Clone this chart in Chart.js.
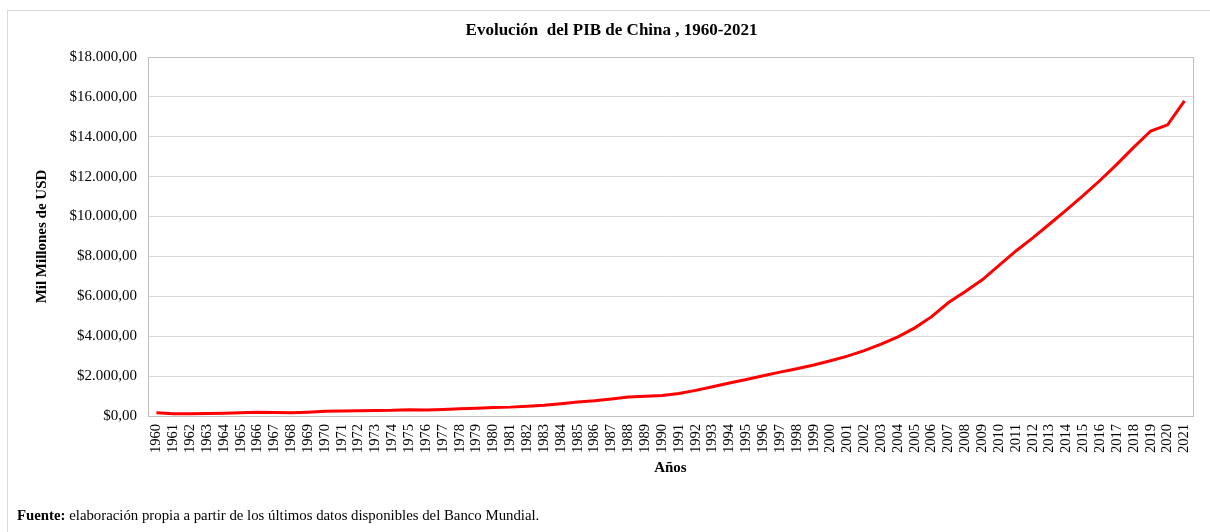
<!DOCTYPE html>
<html>
<head>
<meta charset="utf-8">
<script src="https://cdn.jsdelivr.net/npm/chart.js@4.4.0/dist/chart.umd.min.js"></script>
<style>
  html, body { margin: 0; padding: 0; background: #fff; overflow: hidden; }
  #wrap { position: relative; width: 1210px; height: 532px; }
  #frame { position: absolute; left: 7px; top: 10px; width: 1240px; height: 600px; border: 1px solid #d9d9d9; box-sizing: border-box; }
  #c { position: absolute; left: 0; top: 0; }
  #foot { position: absolute; left: 17px; top: 507px; font-family: "Liberation Serif", "Times New Roman", serif; font-size: 14.8px; color: #000; white-space: nowrap; }
</style>
</head>
<body>
<div id="wrap">
  <div id="frame"></div>
  <canvas id="c" width="1210" height="532"></canvas>
  <div id="foot"><b>Fuente:</b> elaboración propia a partir de los últimos datos disponibles del Banco Mundial.</div>
</div>
<script>
// Years (categories)
const years = ["1960","1961","1962","1963","1964","1965","1966","1967","1968","1969",
  "1970","1971","1972","1973","1974","1975","1976","1977","1978","1979",
  "1980","1981","1982","1983","1984","1985","1986","1987","1988","1989",
  "1990","1991","1992","1993","1994","1995","1996","1997","1998","1999",
  "2000","2001","2002","2003","2004","2005","2006","2007","2008","2009",
  "2010","2011","2012","2013","2014","2015","2016","2017","2018","2019",
  "2020","2021"];

// GDP, billions of USD (Mil Millones de USD)
const pib = [158, 115, 109, 120, 142, 166, 184, 173, 166, 194,
  232, 248, 258, 278, 284, 309, 304, 327, 365, 393,
  424, 445, 485, 538, 619, 702, 765, 854, 950, 990,
  1028, 1124, 1284, 1462, 1652, 1834, 2016, 2201, 2373, 2556,
  2773, 3003, 3276, 3604, 3968, 4420, 4982, 5689, 6241, 6827,
  7551, 8276, 8930, 9626, 10338, 11062, 11820, 12630, 13480, 14290,
  14600, 15800];

// Y axis ticks
const yMin = 0, yMax = 18000, yStep = 2000;

const titleText = "Evolución  del PIB de China , 1960-2021";
const yTitle = "Mil Millones de USD";
const xTitle = "Años";

function fmtMoney(v) {
  const n = Math.round(v);
  const s = String(n).replace(/\B(?=(\d{3})+(?!\d))/g, ".");
  return "$" + s + ",00";
}

const FONT = "'Liberation Serif', 'Times New Roman', serif";

const plotBorder = {
  id: 'plotBorder',
  beforeDatasetsDraw(chart) {
    const a = chart.chartArea, ctx = chart.ctx;
    ctx.save();
    ctx.strokeStyle = '#bfbfbf';
    ctx.lineWidth = 1;
    ctx.strokeRect(Math.round(a.left) + 0.5, Math.round(a.top) + 0.5, Math.round(a.right - a.left), Math.round(a.bottom - a.top));
    ctx.restore();
  }
};

new Chart(document.getElementById('c'), {
  type: 'line',
  data: {
    labels: years,
    datasets: [{
      data: pib,
      borderColor: '#ff0000',
      borderWidth: 3,
      pointRadius: 0,
      tension: 0,
      fill: false
    }]
  },
  options: {
    responsive: false,
    animation: false,
    devicePixelRatio: 1,
    layout: { padding: { left: 30, right: 17, top: 10, bottom: 52 } },
    plugins: {
      legend: { display: false },
      tooltip: { enabled: false },
      title: {
        display: true,
        text: titleText,
        color: '#000',
        font: { family: FONT, size: 17, weight: 'bold' },
        padding: { top: 10, bottom: 16.6 }
      }
    },
    scales: {
      x: {
        type: 'category',
        offset: true,
        grid: { display: false, drawTicks: false },
        border: { display: true, color: '#d9d9d9' },
        ticks: {
          autoSkip: false,
          maxRotation: 90,
          minRotation: 90,
          padding: 8,
          color: '#000',
          font: { family: FONT, size: 14.5 }
        },
        title: {
          display: true,
          text: xTitle,
          color: '#000',
          font: { family: FONT, size: 15, weight: 'bold' },
          padding: { top: 0, bottom: 3 }
        },
        afterFit(scale) { scale.height = 64; }
      },
      y: {
        min: yMin,
        max: yMax,
        grid: { color: '#d9d9d9', drawTicks: false },
        border: { display: true, color: '#bfbfbf' },
        ticks: {
          stepSize: yStep,
          padding: 11,
          color: '#000',
          font: { family: FONT, size: 15 },
          callback: (v) => fmtMoney(v)
        },
        title: {
          display: true,
          text: yTitle,
          color: '#000',
          font: { family: FONT, size: 15, weight: 'bold' },
          padding: { top: 3, bottom: 0 }
        },
        afterFit(scale) { scale.width = 118; }
      }
    }
  },
  plugins: [plotBorder]
});
</script>
</body>
</html>
